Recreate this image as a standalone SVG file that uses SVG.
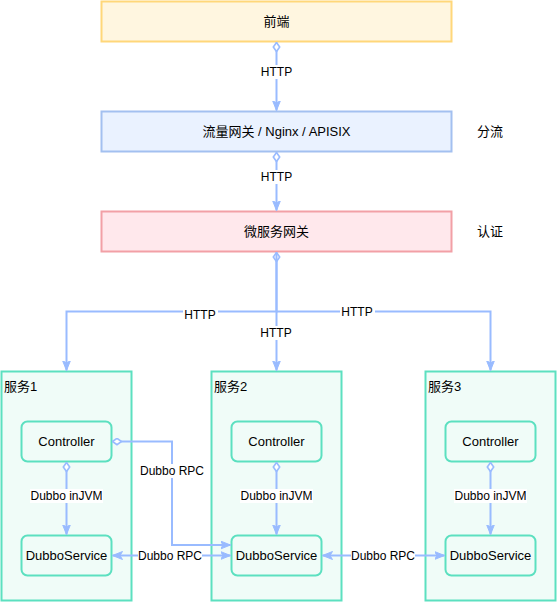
<svg xmlns="http://www.w3.org/2000/svg" width="557" height="602" viewBox="0 0 557 602">
<defs>
<style>
text{font-family:"Liberation Sans","Noto Sans CJK SC",Arial,sans-serif;font-size:13px;fill:#000;}
.c{text-anchor:middle;dominant-baseline:central;}
.l{dominant-baseline:central;}
.e{font-size:12px;}
.conn{fill:none;stroke:#99bbff;stroke-width:2;}
.svc{fill:#f0fcf8;stroke:#5ce0c0;stroke-width:2;}
.inner{fill:#f0fcf8;stroke:#5ce0c0;stroke-width:2;}
.lbl{fill:#fff;}
</style>
<marker id="arr" markerUnits="userSpaceOnUse" markerWidth="12" markerHeight="10" refX="10" refY="4.5" orient="auto-start-reverse" viewBox="0 0 12 10">
<path d="M0,0.5 L10,4.5 L0,8.5 L2.5,4.5 z" fill="#99bbff" stroke="#99bbff" stroke-width="1"/>
</marker>
<marker id="dia" markerUnits="userSpaceOnUse" markerWidth="12" markerHeight="10" refX="0.5" refY="4" orient="auto" viewBox="0 0 12 10">
<path d="M0.5,4 L5,0.8 L9.5,4 L5,7.2 z" fill="#fff" stroke="#99bbff" stroke-width="1.6"/>
</marker>
</defs>

<g id="node-frontend">
<rect x="101.5" y="1.5" width="350" height="40" fill="#fff6e0" stroke="#ffd77a" stroke-width="2"/>
<text class="c" x="276.5" y="21.5">前端</text>
</g>
<g id="node-traffic-gateway">
<rect x="101.5" y="111.5" width="350" height="40" fill="#eaf2ff" stroke="#a3c0f0" stroke-width="2"/>
<text class="c" x="276.5" y="131.5">流量网关 / Nginx / APISIX</text>
</g>
<g id="label-split">
<text class="c" x="490" y="131.5">分流</text>
</g>
<g id="node-ms-gateway">
<rect x="101.5" y="211.5" width="350" height="40" fill="#ffe8ec" stroke="#f2a0a6" stroke-width="2"/>
<text class="c" x="276.5" y="231.5">微服务网关</text>
</g>
<g id="label-auth">
<text class="c" x="490" y="231.5">认证</text>
</g>

<g id="node-service1">
<rect class="svc" x="1.5" y="371.5" width="130" height="229"/>
<text class="l" x="4" y="386.5">服务1</text>
</g>
<g id="node-service2">
<rect class="svc" x="211.5" y="371.5" width="130" height="229"/>
<text class="l" x="214" y="386.5">服务2</text>
</g>
<g id="node-service3">
<rect class="svc" x="425.5" y="371.5" width="130" height="229"/>
<text class="l" x="428" y="386.5">服务3</text>
</g>

<g id="node-controller1">
<rect class="inner" x="21.5" y="421.5" width="90" height="40" rx="6"/>
<text class="c" x="66.5" y="441.5">Controller</text>
</g>
<g id="node-dubboservice1">
<rect class="inner" x="21.5" y="535.5" width="90" height="40" rx="6"/>
<text class="c" x="66.5" y="555.5">DubboService</text>
</g>
<g id="node-controller2">
<rect class="inner" x="231.5" y="421.5" width="90" height="40" rx="6"/>
<text class="c" x="276.5" y="441.5">Controller</text>
</g>
<g id="node-dubboservice2">
<rect class="inner" x="231.5" y="535.5" width="90" height="40" rx="6"/>
<text class="c" x="276.5" y="555.5">DubboService</text>
</g>
<g id="node-controller3">
<rect class="inner" x="445.5" y="421.5" width="90" height="40" rx="6"/>
<text class="c" x="490.5" y="441.5">Controller</text>
</g>
<g id="node-dubboservice3">
<rect class="inner" x="445.5" y="535.5" width="90" height="40" rx="6"/>
<text class="c" x="490.5" y="555.5">DubboService</text>
</g>

<g id="connectors">
<path class="conn" d="M276.5,42.5 L276.5,110.5" marker-start="url(#dia)" marker-end="url(#arr)"/>
<path class="conn" d="M276.5,152.5 L276.5,210.5" marker-start="url(#dia)" marker-end="url(#arr)"/>
<path class="conn" d="M276.5,252.5 L276.5,370.5" marker-start="url(#dia)" marker-end="url(#arr)"/>
<path class="conn" d="M276.5,252.5 L276.5,311.5 L66.5,311.5 L66.5,370.5" marker-end="url(#arr)"/>
<path class="conn" d="M276.5,311.5 L490.5,311.5 L490.5,370.5" marker-end="url(#arr)"/>

<path class="conn" d="M66.5,462.5 L66.5,534.5" marker-start="url(#dia)" marker-end="url(#arr)"/>
<path class="conn" d="M276.5,462.5 L276.5,534.5" marker-start="url(#dia)" marker-end="url(#arr)"/>
<path class="conn" d="M490.5,462.5 L490.5,534.5" marker-start="url(#dia)" marker-end="url(#arr)"/>

<path class="conn" d="M112.5,441.5 L172,441.5 L172,545 L230.5,545" marker-start="url(#dia)" marker-end="url(#arr)"/>
<path class="conn" d="M112.5,555.5 L230.5,555.5" marker-start="url(#arr)" marker-end="url(#arr)"/>
<path class="conn" d="M322.5,555.5 L444.5,555.5" marker-start="url(#arr)" marker-end="url(#arr)"/>

<rect class="lbl" x="259" y="65" width="35" height="14"/>
<text class="c e" x="276.5" y="72">HTTP</text>
<rect class="lbl" x="259" y="170" width="35" height="14"/>
<text class="c e" x="276.5" y="177">HTTP</text>
<rect class="lbl" x="259" y="326" width="35" height="14"/>
<text class="c e" x="276" y="333">HTTP</text>
<rect class="lbl" x="183" y="307" width="35" height="14"/>
<text class="c e" x="200" y="314.5">HTTP</text>
<rect class="lbl" x="340" y="305" width="35" height="14"/>
<text class="c e" x="357" y="311.5">HTTP</text>

<rect class="lbl" x="30" y="489" width="73" height="14"/>
<text class="c e" x="66.5" y="496">Dubbo inJVM</text>
<rect class="lbl" x="240" y="489" width="73" height="14"/>
<text class="c e" x="276.5" y="496">Dubbo inJVM</text>
<rect class="lbl" x="454" y="489" width="73" height="14"/>
<text class="c e" x="490.5" y="496">Dubbo inJVM</text>

<rect class="lbl" x="140" y="464" width="64" height="14"/>
<text class="c e" x="172" y="471">Dubbo RPC</text>
<rect class="lbl" x="138" y="549" width="64" height="14"/>
<text class="c e" x="170" y="556">Dubbo RPC</text>
<rect class="lbl" x="351" y="549" width="64" height="14"/>
<text class="c e" x="383" y="556">Dubbo RPC</text>
</g>
</svg>
